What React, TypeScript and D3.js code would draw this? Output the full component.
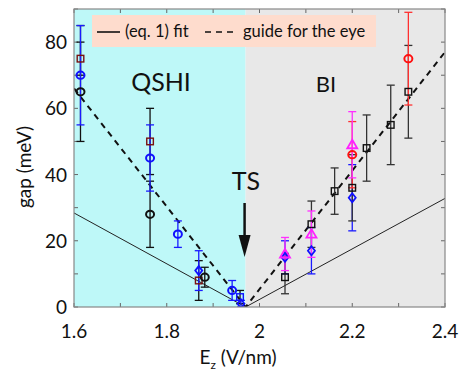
import React from "react";
import * as d3 from "d3";

// fit curves (eq. 1) and guide for the eye
const fitLine: [number, number][] = [[1.6, 28.4], [1.97, 0], [2.4, 32.8]];
const guideLine: [number, number][] = [[1.6, 66], [1.97, 0], [2.4, 77]];

// measured gaps: [Ez, gap, errLow, errHigh]
const darkRedSquares = [[1.614, 75, 70, 80], [1.764, 50, 40, 60], [1.869, 8, 2, 14]];
const blackCircles = [[1.614, 65, 50, 85], [1.764, 28, 18, 38], [1.882, 9, 6, 12]];
const blueCircles = [[1.614, 70, 55, 85], [1.764, 45, 35, 55], [1.824, 22, 18, 26], [1.941, 5, 2, 8]];
const blueSquares = [[1.958, 3, 1, 5]];
const blueDiamonds = [[1.869, 11, 5, 17], [1.96, 1, 0, 2], [2.055, 15, 10, 20], [2.112, 17, 10, 24], [2.2, 33, 23, 43]];
const magentaTriangles = [[2.055, 16, 11, 21], [2.112, 22, 15, 29], [2.2, 49, 39, 59]];
const redCircles = [[2.2, 46, 36, 56], [2.321, 75, 61, 89]];
const blackSquares = [[2.055, 9, 4, 15], [2.112, 25, 18, 32], [2.162, 35, 28, 42], [2.2, 36, 26, 46], [2.231, 48, 38, 58], [2.283, 55, 43, 67], [2.321, 65, 51, 79]];

const xTicks = d3.range(16, 25).map((d) => d / 10);
const xLabels = [1.6, 1.8, 2.0, 2.2, 2.4];
const yTicks = d3.range(0, 91, 10);
const yLabels = [0, 20, 40, 60, 80];
const boundary = 1.97;

const W = 463, H = 373;
const m = { left: 74, right: 445, top: 9, bottom: 307 };
const font = "Lato, 'Open Sans', sans-serif";

export default function App() {
  const x = d3.scaleLinear().domain([1.6, 2.4]).range([m.left, m.right]);
  const y = d3.scaleLinear().domain([0, 90]).range([m.bottom, m.top]);
  const line = d3.line<[number, number]>().x((d) => x(d[0])).y((d) => y(d[1]));

  const errBars = (data: number[][], color: string) =>
    data.map((d, i) => (
      <g key={i} stroke={color} strokeWidth={1.3}>
        <line x1={x(d[0])} x2={x(d[0])} y1={y(d[2])} y2={y(d[3])} />
        <line x1={x(d[0]) - 4} x2={x(d[0]) + 4} y1={y(d[2])} y2={y(d[2])} />
        <line x1={x(d[0]) - 4} x2={x(d[0]) + 4} y1={y(d[3])} y2={y(d[3])} />
      </g>
    ));

  const markers = (data: number[][], color: string, shape: "circle" | "square" | "diamond" | "triangle") =>
    data.map((d, i) => {
      const cx = x(d[0]), cy = y(d[1]);
      if (shape === "circle")
        return <ellipse key={i} cx={cx} cy={cy} rx={4} ry={3.6} fill="none" stroke={color} strokeWidth={2} />;
      if (shape === "square")
        return <rect key={i} x={cx - 3.3} y={cy - 3.3} width={6.6} height={6.6} fill="none" stroke={color} strokeWidth={1.4} />;
      if (shape === "diamond")
        return <path key={i} d={`M${cx},${cy - 4.5}L${cx + 3.5},${cy}L${cx},${cy + 4.5}L${cx - 3.5},${cy}Z`} fill="none" stroke={color} strokeWidth={1.8} />;
      return <path key={i} d={`M${cx},${cy - 5}L${cx + 5},${cy + 3.5}L${cx - 5},${cy + 3.5}Z`} fill="none" stroke={color} strokeWidth={1.8} />;
    });

  return (
    <svg width={W} height={H} style={{ position: "absolute", left: 0, top: 0, background: "#fff" }} fontFamily={font}>
      <defs>
        <clipPath id="plot">
          <rect x={m.left} y={m.top} width={m.right - m.left} height={m.bottom - m.top} />
        </clipPath>
      </defs>
      {/* phase backgrounds */}
      <rect x={m.left} y={m.top} width={x(boundary) - m.left} height={m.bottom - m.top} fill="#bef8f8" />
      <rect x={x(boundary)} y={m.top} width={m.right - x(boundary)} height={m.bottom - m.top} fill="#e8e8e8" />

      {/* ticks, inward on all sides */}
      <g stroke="#666" strokeWidth={1}>
        {xTicks.map((t) => (
          <g key={t}>
            <line x1={x(t)} x2={x(t)} y1={m.bottom} y2={m.bottom - 4} />
            <line x1={x(t)} x2={x(t)} y1={m.top} y2={m.top + 4} />
          </g>
        ))}
        {yTicks.map((t) => (
          <g key={t}>
            <line x1={m.left} x2={m.left + 4} y1={y(t)} y2={y(t)} />
            <line x1={m.right} x2={m.right - 4} y1={y(t)} y2={y(t)} />
          </g>
        ))}
      </g>

      <g clipPath="url(#plot)">
        <path d={line(fitLine) ?? ""} fill="none" stroke="#222" strokeWidth={1} />
        <path d={line(guideLine) ?? ""} fill="none" stroke="#111" strokeWidth={2} strokeDasharray="6,5" />

        {errBars(blackCircles, "#111")}
        {errBars(darkRedSquares, "#111")}
        {errBars(blueCircles, "#1a1aff")}
        {errBars(blueSquares, "#111")}
        {errBars(blueDiamonds, "#1a1aff")}
        {errBars(blackSquares, "#333")}
        {errBars(redCircles, "#ff3030")}
        {errBars(magentaTriangles, "#ff30ff")}

        {markers(darkRedSquares, "#7a1010", "square")}
        {markers(blackCircles, "#111", "circle")}
        {markers(blueCircles, "#1010ff", "circle")}
        {markers(blueSquares, "#1010ff", "square")}
        {markers(blueDiamonds, "#1010ff", "diamond")}
        {markers(blackSquares, "#111", "square")}
        {markers(magentaTriangles, "#ff20ff", "triangle")}
        {markers(redCircles, "#ff1010", "circle")}
      </g>

      {/* legend */}
      <rect x={92} y={15} width={284} height={32} fill="#fedccd" />
      <line x1={97} x2={120} y1={32} y2={32} stroke="#111" strokeWidth={1.6} />
      <text x={125} y={37} fontSize={16.5} fill="#111">(eq. 1) fit</text>
      <line x1={205} x2={234} y1={32} y2={32} stroke="#111" strokeWidth={1.6} strokeDasharray="6,5" />
      <text x={243} y={37} fontSize={16.5} fill="#111">guide for the eye</text>

      {/* phase labels */}
      <text x={161} y={91} fontSize={25} textAnchor="middle" fill="#111">QSHI</text>
      <text x={326} y={92} fontSize={22} textAnchor="middle" fill="#111">BI</text>
      <text x={246} y={190} fontSize={25} textAnchor="middle" fill="#111">TS</text>
      <line x1={x(boundary) - 1} x2={x(boundary) - 1} y1={203} y2={240} stroke="#111" strokeWidth={2.5} />
      <path d={`M${x(boundary) - 7},235L${x(boundary) + 5},235L${x(boundary) - 1},257Z`} fill="#111" />

      {/* frame */}
      <rect x={m.left} y={m.top} width={m.right - m.left} height={m.bottom - m.top} fill="none" stroke="#888" strokeWidth={1.2} />

      {/* tick labels */}
      {xLabels.map((t) => (
        <text key={t} x={x(t)} y={338} fontSize={19} textAnchor="middle" fill="#111">{d3.format("")(t)}</text>
      ))}
      {yLabels.map((t) => (
        <text key={t} x={67} y={y(t) + 7} fontSize={19} textAnchor="end" fill="#111">{t}</text>
      ))}

      {/* axis titles */}
      <text x={238} y={364} fontSize={19} textAnchor="middle" fill="#111">
        E<tspan fontSize={12} dy={5}>z</tspan><tspan dy={-5}> (V/nm)</tspan>
      </text>
      <text transform={`translate(31,${167}) rotate(-90)`} fontSize={19} textAnchor="middle" fill="#111">gap (meV)</text>
    </svg>
  );
}
